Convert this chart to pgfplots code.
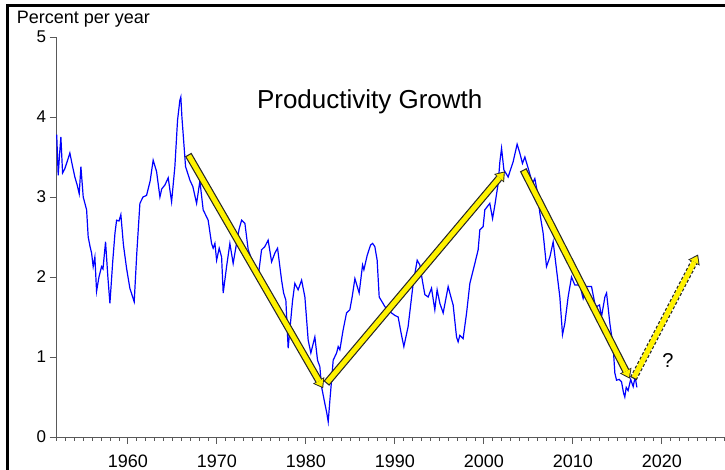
\documentclass[border=0pt]{standalone}
\usepackage{pgfplots}
\pgfplotsset{compat=1.18}
\usetikzlibrary{arrows.meta}
\usepackage{fontspec}
\setmainfont{Liberation Sans}
\tikzset{
  outer/.style={black!85, line width=7.4pt, -{Triangle[width=13pt,length=9pt,line width=0pt]}},
  inner/.style={yellow, line width=5pt, shorten <=1.2pt, shorten >=1.6pt, -{Triangle[width=9.6pt,length=6.6pt,line width=0pt]}}
}
\begin{document}
\begin{tikzpicture}
\useasboundingbox (0,0) rectangle (725pt,470pt);
\begin{axis}[
  at={(56.7pt,33pt)}, anchor=south west,
  scale only axis, width=668.3pt, height=400pt,
  xmin=1952, xmax=2027.1, ymin=0, ymax=5,
  axis x line*=bottom, axis y line*=left,
  axis line style={black!65, line width=0.8pt},
  every tick/.style={black!65, line width=0.8pt},
  xtick={1960,1970,...,2020}, ytick={0,1,...,5},
  minor xtick={1952,1953,...,2027},
  xtick align=outside, ytick align=outside,
  major tick length=7pt, minor tick length=4pt,
  /pgf/number format/.cd, 1000 sep={}, assume math mode=true, /pgfplots/.cd,
  xticklabel style={font=\fontsize{18}{20}\selectfont, yshift=-7pt},
  yticklabel style={font=\fontsize{17}{19}\selectfont},
  clip=false,
]
\addplot[blue, line width=1.2pt] coordinates {
(1952.00,3.78)(1952.17,3.27)(1952.30,3.5)(1952.47,3.75)(1952.66,3.30)(1952.9,3.35)
(1953.2,3.45)(1953.48,3.55)(1953.75,3.4)(1954.04,3.25)(1954.3,3.15)(1954.53,3.04)
(1954.72,3.38)(1954.98,3.00)(1955.36,2.84)(1955.54,2.50)(1955.75,2.38)(1955.92,2.30)
(1956.10,2.13)(1956.29,2.25)(1956.48,1.82)(1956.75,2.0)(1957.04,2.13)(1957.2,2.10)
(1957.49,2.44)(1957.75,2.0)(1957.98,1.67)(1958.3,2.2)(1958.55,2.55)(1958.73,2.71)
(1959.0,2.7)(1959.21,2.78)(1959.5,2.4)(1959.85,2.11)(1960.22,1.86)(1960.71,1.69)
(1961.0,2.3)(1961.35,2.92)(1961.7,3.0)(1962.10,3.02)(1962.5,3.2)(1962.84,3.46)
(1963.22,3.32)(1963.60,3.00)(1963.8,3.1)(1964.16,3.15)(1964.53,3.24)(1964.91,2.94)
(1965.28,3.38)(1965.58,3.96)(1965.84,4.21)(1965.95,4.25)(1966.07,4.00)(1966.48,3.38)
(1966.97,3.21)(1967.30,3.13)(1967.72,2.92)(1968.09,3.2)(1968.46,2.84)(1969.02,2.71)
(1969.40,2.42)(1969.58,2.36)(1969.78,2.42)(1969.97,2.21)(1970.26,2.36)(1970.53,2.25)
(1970.71,1.80)(1971.09,2.13)(1971.46,2.42)(1971.83,2.17)(1972.21,2.42)(1972.5,2.6)
(1972.78,2.71)(1973.15,2.67)(1973.52,2.34)(1974.08,2.17)(1974.4,2.1)(1974.64,2.00)
(1975.02,2.34)(1975.39,2.38)(1975.76,2.46)(1976.15,2.19)(1976.52,2.30)(1976.82,2.36)
(1977.27,1.96)(1977.5,1.8)(1977.75,1.71)(1978.01,1.11)(1978.20,1.34)(1978.5,1.7)
(1978.76,1.92)(1979.13,1.84)(1979.52,1.96)(1979.89,1.75)(1980.26,1.21)(1980.56,1.05)
(1981.01,1.25)(1981.31,0.96)(1981.57,0.88)(1981.76,0.63)(1982.13,0.42)(1982.35,0.3)
(1982.51,0.19)(1982.70,0.46)(1982.89,0.71)(1983.07,0.96)(1983.45,1.05)(1983.63,1.13)
(1983.82,1.09)(1984.19,1.34)(1984.57,1.55)(1984.94,1.59)(1985.2,1.75)(1985.51,1.98)
(1985.99,1.80)(1986.37,2.15)(1986.52,2.09)(1986.89,2.27)(1987.27,2.40)(1987.5,2.42)
(1987.75,2.38)(1988.01,2.21)(1988.24,1.75)(1988.88,1.63)(1989.63,1.55)(1990.0,1.52)
(1990.37,1.50)(1990.7,1.3)(1991.01,1.13)(1991.49,1.38)(1992.06,1.92)(1992.51,2.21)
(1992.81,2.15)(1993.1,1.95)(1993.37,1.78)(1993.74,1.75)(1994.12,1.86)(1994.49,1.59)
(1994.75,1.84)(1995.06,1.67)(1995.43,1.55)(1995.99,1.88)(1996.3,1.75)(1996.55,1.65)
(1996.93,1.25)(1997.11,1.19)(1997.3,1.27)(1997.67,1.23)(1998.06,1.55)(1998.43,1.92)
(1998.99,2.17)(1999.36,2.34)(1999.55,2.59)(1999.92,2.63)(2000.11,2.84)(2000.67,2.92)
(2000.98,2.73)(2001.24,2.90)(2001.61,3.17)(2001.80,3.44)(2001.99,3.61)(2002.25,3.34)
(2002.73,3.25)(2003.29,3.44)(2003.74,3.66)(2004.04,3.55)(2004.34,3.42)(2004.61,3.50)
(2004.98,3.36)(2005.47,3.17)(2005.73,3.23)(2006.03,3.05)(2006.29,2.80)(2006.66,2.55)
(2007.04,2.13)(2007.42,2.25)(2007.79,2.44)(2008.17,2.09)(2008.54,1.75)(2008.84,1.28)
(2009.10,1.42)(2009.47,1.75)(2009.85,2.00)(2010.22,1.90)(2010.79,1.9)(2011.16,1.73)
(2011.54,1.88)(2012.10,1.88)(2012.47,1.67)(2012.66,1.63)(2013.0,1.65)(2013.22,1.50)
(2013.60,1.75)(2013.79,1.80)(2014.16,1.42)(2014.53,1.13)(2014.72,0.80)(2014.91,0.71)
(2015.2,0.72)(2015.47,0.69)(2015.7,0.55)(2015.84,0.50)(2016.0,0.62)(2016.21,0.58)
(2016.5,0.72)(2016.78,0.63)(2017.0,0.75)(2017.2,0.62)
};
% solid arrows
\draw[outer] (axis cs:1966.78,3.53) -- (axis cs:1981.94,0.61);
\draw[inner] (axis cs:1966.78,3.53) -- (axis cs:1981.94,0.61);
\draw[outer] (axis cs:1982.3,0.67) -- (axis cs:2002.36,3.32);
\draw[inner] (axis cs:1982.3,0.67) -- (axis cs:2002.36,3.32);
\draw[outer] (axis cs:2004.42,3.34) -- (axis cs:2016.4,0.73);
\draw[inner] (axis cs:2004.42,3.34) -- (axis cs:2016.4,0.73);
% dashed arrow
\draw[outer, dash pattern=on 3pt off 2pt] (axis cs:2016.8,0.73) -- (axis cs:2024.07,2.28);
\draw[inner] (axis cs:2016.8,0.73) -- (axis cs:2024.07,2.28);
\node[font=\fontsize{20}{22}\selectfont] at (axis cs:2020.7,0.96) {?};
\end{axis}
\node[anchor=base, font=\fontsize{26}{28}\selectfont] at (369.7pt,361.7pt) {Productivity Growth};
\node[anchor=base west, inner sep=0pt, font=\fontsize{18}{20}\selectfont] at (16.7pt,446pt) {Percent per year};
\draw[black, line width=2.8pt] (7.2pt,0) -- (7.2pt,464.6pt) -- (725pt,464.6pt);
\end{tikzpicture}
\end{document}
